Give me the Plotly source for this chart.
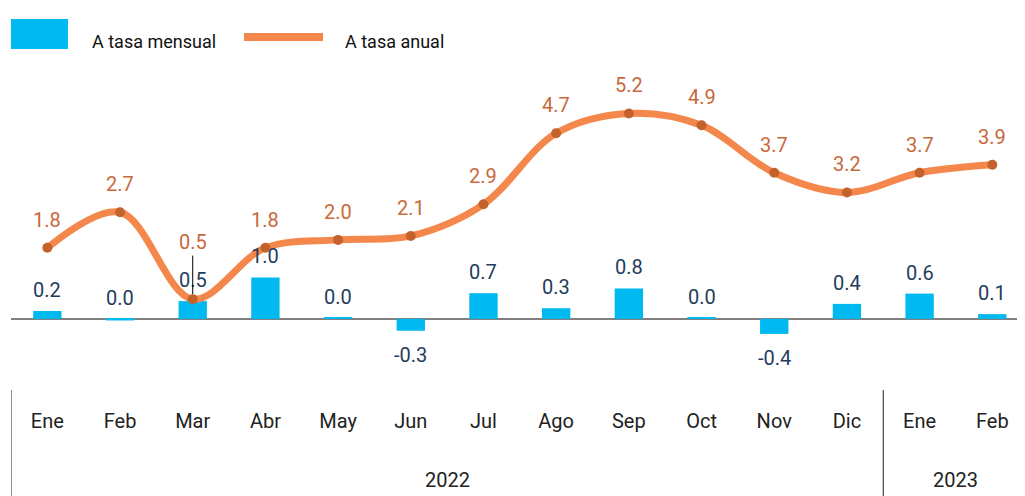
import plotly.graph_objects as go

months = ["Ene", "Feb", "Mar", "Abr", "May", "Jun", "Jul", "Ago", "Sep", "Oct", "Nov", "Dic", "Ene", "Feb"]
years = ["2022"] * 12 + ["2023"] * 2
# monthly rate (bars): estimated heights and printed labels
mensual = [0.2, -0.04, 0.45, 1.05, 0.03, -0.3, 0.65, 0.27, 0.77, 0.03, -0.38, 0.38, 0.64, 0.12]
mensual_labels = ["0.2", "0.0", "0.5", "1.0", "0.0", "-0.3", "0.7", "0.3", "0.8", "0.0", "-0.4", "0.4", "0.6", "0.1"]
# annual rate (line)
anual = [1.8, 2.7, 0.5, 1.8, 2.0, 2.1, 2.9, 4.7, 5.2, 4.9, 3.7, 3.2, 3.7, 3.9]

BAR_C = "#00B9F1"
LINE_C = "#F4874B"
DOT_C = "#C4622E"
LINE_LBL_C = "#C8693A"
BAR_LBL_C = "#1F3D5C"
FONT = "Roboto"

x = list(range(len(months)))

fig = go.Figure()
fig.add_trace(go.Bar(x=x, y=mensual, marker=dict(color=BAR_C, line=dict(width=0)),
                     width=0.39, name="A tasa mensual", showlegend=False))
fig.add_trace(go.Scatter(x=x, y=anual, mode="lines+markers", name="A tasa anual",
                         line=dict(color=LINE_C, width=7, shape="spline", smoothing=1),
                         marker=dict(color=DOT_C, size=10), showlegend=False))

ann = []
# bar labels
for i, (v, lbl) in enumerate(zip(mensual, mensual_labels)):
    if float(lbl) >= 0:
        ann.append(dict(x=i, y=max(v, 0), text=lbl, showarrow=False, yanchor="middle",
                        yshift=21, font=dict(color=BAR_LBL_C, size=20, family=FONT)))
    else:
        ann.append(dict(x=i, y=v, text=lbl, showarrow=False, yanchor="middle",
                        yshift=-24, font=dict(color=BAR_LBL_C, size=20, family=FONT)))
# line labels
for i, v in enumerate(anual):
    if months[i] == "Mar" and i == 2:
        ann.append(dict(x=i, y=v, text=f"{v:.1f}", showarrow=True, arrowhead=0, arrowwidth=1,
                        arrowcolor="#000000", ax=0, ay=-57, standoff=5,
                        font=dict(color=LINE_LBL_C, size=20, family=FONT)))
    else:
        ann.append(dict(x=i, y=v, text=f"{v:.1f}", showarrow=False, yanchor="middle",
                        yshift=28, font=dict(color=LINE_LBL_C, size=20, family=FONT)))

# year group labels
groups = []
for i, yv in enumerate(years):
    if not groups or groups[-1][0] != yv:
        groups.append([yv, i, i])
    else:
        groups[-1][2] = i
shapes = []
for g, a, b in groups:
    ann.append(dict(x=(a + b) / 2, y=-0.28, yref="paper", text=g, showarrow=False,
                    yanchor="middle", font=dict(color="#222222", size=20, family=FONT)))
    shapes.append(dict(type="line", xref="x", yref="paper", x0=a - 0.5, x1=a - 0.5,
                       y0=0, y1=-0.34, line=dict(color="#222222", width=1)))

# manual legend
shapes.append(dict(type="rect", xref="paper", yref="paper", x0=0.0, x1=0.0562, y0=1.066, y1=1.159,
                   fillcolor=BAR_C, line=dict(width=0)))
shapes.append(dict(type="line", xref="paper", yref="paper", x0=0.2298, x1=0.3077, y0=1.103, y1=1.103,
                   line=dict(color=LINE_C, width=8)))
ann.append(dict(x=0.0779, y=1.088, xref="paper", yref="paper", text="A tasa mensual", showarrow=False,
                xanchor="left", yanchor="middle", font=dict(color="#111111", size=18, family=FONT)))
ann.append(dict(x=0.3274, y=1.088, xref="paper", yref="paper", text="A tasa anual", showarrow=False,
                xanchor="left", yanchor="middle", font=dict(color="#111111", size=18, family=FONT)))

fig.update_layout(
    width=1017, height=488,
    margin=dict(l=3, r=0, t=62, b=106),
    paper_bgcolor="white", plot_bgcolor="white",
    annotations=ann, shapes=shapes,
    bargap=0.6,
    font=dict(family=FONT, size=20, color="#222222"),
)
fig.update_xaxes(range=[-0.5, 13.45], tickvals=x, ticktext=months, showgrid=False,
                 showline=False, zeroline=False, ticks="", ticklabelstandoff=17,
                 tickfont=dict(size=20, color="#222222", family=FONT))
fig.update_yaxes(range=[-1.8, 6.3], showgrid=False, showticklabels=False, zeroline=True,
                 zerolinecolor="#808080", zerolinewidth=2, showline=False)

fig.write_html("out.html")
